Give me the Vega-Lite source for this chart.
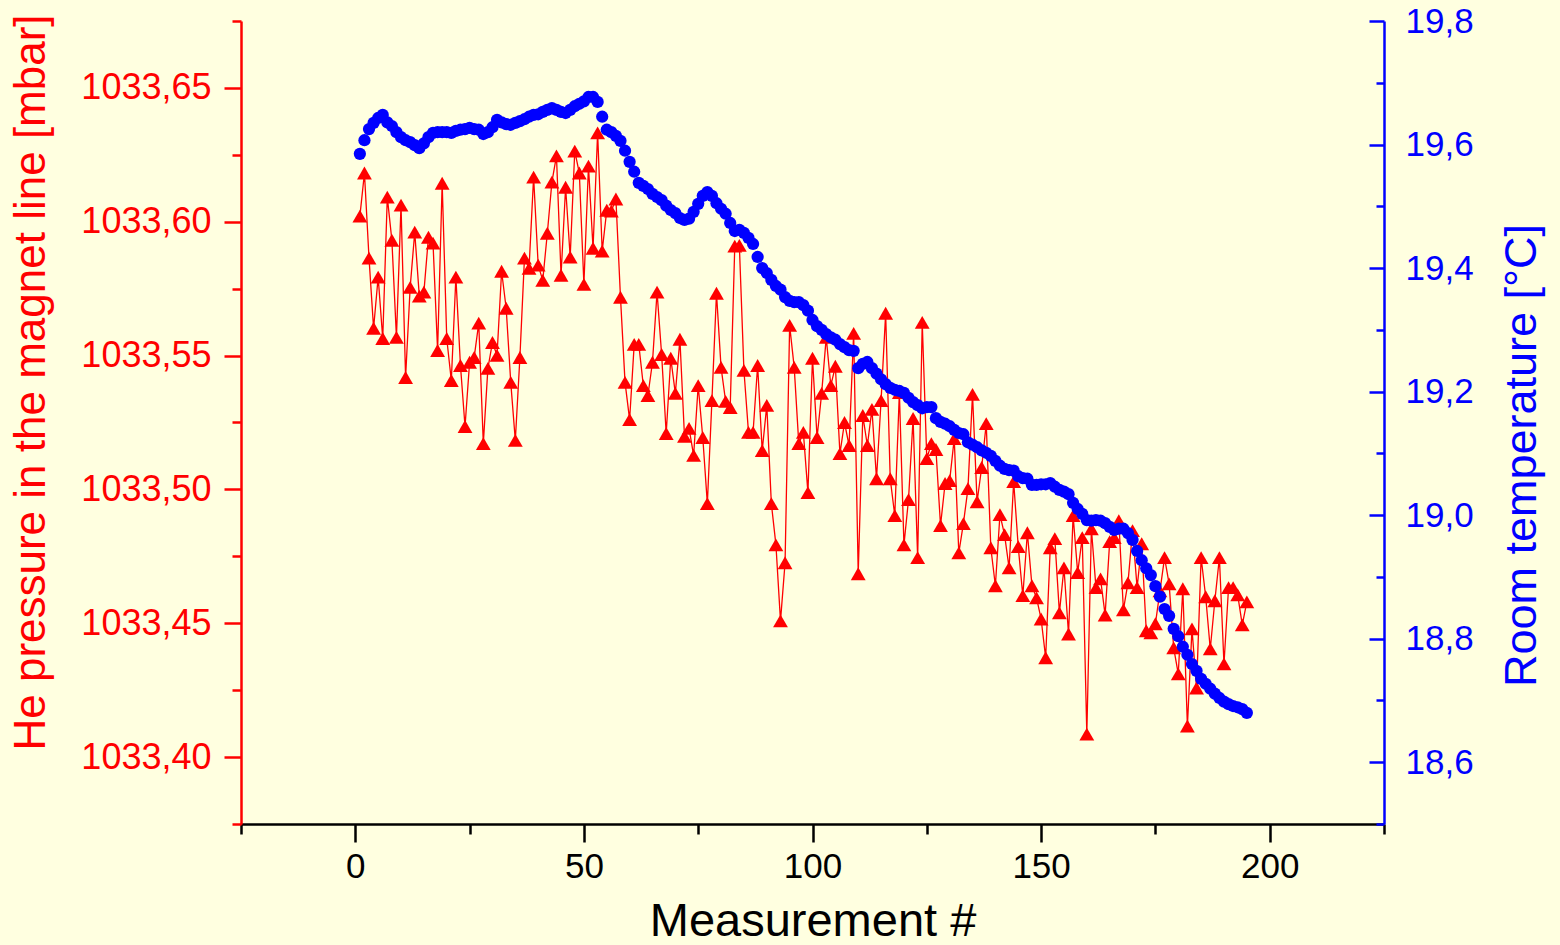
{
"$schema": "https://vega.github.io/schema/vega-lite/v6.json",
"width": 1143, "height": 803,
"autosize": {"type": "none"},
"padding": {"left": 241, "top": 21, "right": 176, "bottom": 121},
"background": "#FFFFE0",
"config": {"view": {"stroke": null}, "axis": {"grid": false, "labelFont": "Liberation Sans", "titleFont": "Liberation Sans", "titleFontWeight": "normal", "labelOverlap": false, "labelFlush": false, "labelBound": false}},
"datasets": {
"pressure": [
{"n":1,"p":1033.6021},{"n":2,"p":1033.6182},{"n":3,"p":1033.5864},{"n":4,"p":1033.5602},{"n":5,"p":1033.5793},{"n":6,"p":1033.5564},{"n":7,"p":1033.6092},{"n":8,"p":1033.5931},{"n":9,"p":1033.5568},{"n":10,"p":1033.6062},
{"n":11,"p":1033.5418},{"n":12,"p":1033.5755},{"n":13,"p":1033.5961},{"n":14,"p":1033.5722},{"n":15,"p":1033.5737},{"n":16,"p":1033.5942},{"n":17,"p":1033.592},{"n":18,"p":1033.5519},{"n":19,"p":1033.6144},{"n":20,"p":1033.5564},
{"n":21,"p":1033.5407},{"n":22,"p":1033.5793},{"n":23,"p":1033.5463},{"n":24,"p":1033.5235},{"n":25,"p":1033.5475},{"n":26,"p":1033.5493},{"n":27,"p":1033.5621},{"n":28,"p":1033.5171},{"n":29,"p":1033.5452},{"n":30,"p":1033.5549},
{"n":31,"p":1033.5501},{"n":32,"p":1033.5815},{"n":33,"p":1033.5677},{"n":34,"p":1033.54},{"n":35,"p":1033.5183},{"n":36,"p":1033.5493},{"n":37,"p":1033.5864},{"n":38,"p":1033.5826},{"n":39,"p":1033.6167},{"n":40,"p":1033.5838},
{"n":41,"p":1033.5781},{"n":42,"p":1033.5957},{"n":43,"p":1033.6148},{"n":44,"p":1033.6246},{"n":45,"p":1033.58},{"n":46,"p":1033.6129},{"n":47,"p":1033.5868},{"n":48,"p":1033.6264},{"n":49,"p":1033.6182},{"n":50,"p":1033.5766},
{"n":51,"p":1033.6208},{"n":52,"p":1033.5901},{"n":53,"p":1033.6332},{"n":54,"p":1033.589},{"n":55,"p":1033.6043},{"n":56,"p":1033.604},{"n":57,"p":1033.6085},{"n":58,"p":1033.5718},{"n":59,"p":1033.54},{"n":60,"p":1033.5261},
{"n":61,"p":1033.5542},{"n":62,"p":1033.5542},{"n":63,"p":1033.5388},{"n":64,"p":1033.5351},{"n":65,"p":1033.5475},{"n":66,"p":1033.5737},{"n":67,"p":1033.5504},{"n":68,"p":1033.5209},{"n":69,"p":1033.549},{"n":70,"p":1033.5359},
{"n":71,"p":1033.5561},{"n":72,"p":1033.5198},{"n":73,"p":1033.5228},{"n":74,"p":1033.5127},{"n":75,"p":1033.5388},{"n":76,"p":1033.5194},{"n":77,"p":1033.4947},{"n":78,"p":1033.5332},{"n":79,"p":1033.5733},{"n":80,"p":1033.5456},
{"n":81,"p":1033.5329},{"n":82,"p":1033.5306},{"n":83,"p":1033.5909},{"n":84,"p":1033.5912},{"n":85,"p":1033.5445},{"n":86,"p":1033.5213},{"n":87,"p":1033.5213},{"n":88,"p":1033.5463},{"n":89,"p":1033.5145},{"n":90,"p":1033.5314},
{"n":91,"p":1033.4947},{"n":92,"p":1033.4793},{"n":93,"p":1033.4509},{"n":94,"p":1033.4726},{"n":95,"p":1033.5613},{"n":96,"p":1033.5456},{"n":97,"p":1033.5171},{"n":98,"p":1033.5213},{"n":99,"p":1033.4988},{"n":100,"p":1033.549},
{"n":101,"p":1033.5194},{"n":102,"p":1033.5359},{"n":103,"p":1033.5568},{"n":104,"p":1033.5388},{"n":105,"p":1033.546},{"n":106,"p":1033.5134},{"n":107,"p":1033.525},{"n":108,"p":1033.5164},{"n":109,"p":1033.5583},{"n":110,"p":1033.4685},
{"n":111,"p":1033.5276},{"n":112,"p":1033.5164},{"n":113,"p":1033.5299},{"n":114,"p":1033.504},{"n":115,"p":1033.5332},{"n":116,"p":1033.5658},{"n":117,"p":1033.504},{"n":118,"p":1033.4902},{"n":119,"p":1033.5362},{"n":120,"p":1033.4793},
{"n":121,"p":1033.4962},{"n":122,"p":1033.5265},{"n":123,"p":1033.4745},{"n":124,"p":1033.5624},{"n":125,"p":1033.5115},{"n":126,"p":1033.5171},{"n":127,"p":1033.5149},{"n":128,"p":1033.4865},{"n":129,"p":1033.5022},{"n":130,"p":1033.5033},
{"n":131,"p":1033.519},{"n":132,"p":1033.4763},{"n":133,"p":1033.4872},{"n":134,"p":1033.5003},{"n":135,"p":1033.5355},{"n":136,"p":1033.4954},{"n":137,"p":1033.5082},{"n":138,"p":1033.5246},{"n":139,"p":1033.4782},{"n":140,"p":1033.464},
{"n":141,"p":1033.4906},{"n":142,"p":1033.4831},{"n":143,"p":1033.4707},{"n":144,"p":1033.5029},{"n":145,"p":1033.4786},{"n":146,"p":1033.4603},{"n":147,"p":1033.4838},{"n":148,"p":1033.464},{"n":149,"p":1033.4595},{"n":150,"p":1033.4516},
{"n":151,"p":1033.4371},{"n":152,"p":1033.4782},{"n":153,"p":1033.4816},{"n":154,"p":1033.4539},{"n":155,"p":1033.4707},{"n":156,"p":1033.446},{"n":157,"p":1033.4902},{"n":158,"p":1033.4689},{"n":159,"p":1033.482},{"n":160,"p":1033.4086},
{"n":161,"p":1033.4853},{"n":162,"p":1033.4633},{"n":163,"p":1033.4666},{"n":164,"p":1033.4531},{"n":165,"p":1033.4805},{"n":166,"p":1033.482},{"n":167,"p":1033.4883},{"n":168,"p":1033.455},{"n":169,"p":1033.4651},{"n":170,"p":1033.4846},
{"n":171,"p":1033.4633},{"n":172,"p":1033.4797},{"n":173,"p":1033.4472},{"n":174,"p":1033.4464},{"n":175,"p":1033.4498},{"n":176,"p":1033.4621},{"n":177,"p":1033.4745},{"n":178,"p":1033.4647},{"n":179,"p":1033.4408},{"n":180,"p":1033.4311},
{"n":181,"p":1033.4629},{"n":182,"p":1033.4116},{"n":183,"p":1033.4479},{"n":184,"p":1033.4258},{"n":185,"p":1033.4745},{"n":186,"p":1033.4599},{"n":187,"p":1033.4404},{"n":188,"p":1033.4584},{"n":189,"p":1033.4745},{"n":190,"p":1033.4348},
{"n":191,"p":1033.4633},{"n":192,"p":1033.4633},{"n":193,"p":1033.4606},{"n":194,"p":1033.4494},{"n":195,"p":1033.458}
],
"temp": [
{"n":1,"t":19.585},{"n":2,"t":19.607},{"n":3,"t":19.625},{"n":4,"t":19.635},{"n":5,"t":19.643},{"n":6,"t":19.648},{"n":7,"t":19.636},{"n":8,"t":19.63},{"n":9,"t":19.62},{"n":10,"t":19.612},
{"n":11,"t":19.607},{"n":12,"t":19.604},{"n":13,"t":19.599},{"n":14,"t":19.594},{"n":15,"t":19.602},{"n":16,"t":19.612},{"n":17,"t":19.619},{"n":18,"t":19.62},{"n":19,"t":19.62},{"n":20,"t":19.62},
{"n":21,"t":19.619},{"n":22,"t":19.622},{"n":23,"t":19.624},{"n":24,"t":19.625},{"n":25,"t":19.627},{"n":26,"t":19.625},{"n":27,"t":19.624},{"n":28,"t":19.617},{"n":29,"t":19.62},{"n":30,"t":19.628},
{"n":31,"t":19.64},{"n":32,"t":19.636},{"n":33,"t":19.633},{"n":34,"t":19.632},{"n":35,"t":19.635},{"n":36,"t":19.638},{"n":37,"t":19.641},{"n":38,"t":19.645},{"n":39,"t":19.648},{"n":40,"t":19.649},
{"n":41,"t":19.653},{"n":42,"t":19.656},{"n":43,"t":19.659},{"n":44,"t":19.656},{"n":45,"t":19.653},{"n":46,"t":19.651},{"n":47,"t":19.656},{"n":48,"t":19.662},{"n":49,"t":19.666},{"n":50,"t":19.67},
{"n":51,"t":19.677},{"n":52,"t":19.677},{"n":53,"t":19.669},{"n":54,"t":19.645},{"n":55,"t":19.624},{"n":56,"t":19.62},{"n":57,"t":19.614},{"n":58,"t":19.606},{"n":59,"t":19.59},{"n":60,"t":19.572},
{"n":61,"t":19.556},{"n":62,"t":19.538},{"n":63,"t":19.533},{"n":64,"t":19.528},{"n":65,"t":19.52},{"n":66,"t":19.515},{"n":67,"t":19.51},{"n":68,"t":19.501},{"n":69,"t":19.494},{"n":70,"t":19.489},
{"n":71,"t":19.481},{"n":72,"t":19.478},{"n":73,"t":19.48},{"n":74,"t":19.491},{"n":75,"t":19.504},{"n":76,"t":19.517},{"n":77,"t":19.523},{"n":78,"t":19.517},{"n":79,"t":19.505},{"n":80,"t":19.496},
{"n":81,"t":19.488},{"n":82,"t":19.473},{"n":83,"t":19.46},{"n":84,"t":19.462},{"n":85,"t":19.457},{"n":86,"t":19.449},{"n":87,"t":19.439},{"n":88,"t":19.418},{"n":89,"t":19.4},{"n":90,"t":19.392},
{"n":91,"t":19.381},{"n":92,"t":19.371},{"n":93,"t":19.365},{"n":94,"t":19.353},{"n":95,"t":19.347},{"n":96,"t":19.345},{"n":97,"t":19.345},{"n":98,"t":19.34},{"n":99,"t":19.331},{"n":100,"t":19.316},
{"n":101,"t":19.306},{"n":102,"t":19.3},{"n":103,"t":19.293},{"n":104,"t":19.288},{"n":105,"t":19.284},{"n":106,"t":19.277},{"n":107,"t":19.272},{"n":108,"t":19.267},{"n":109,"t":19.266},{"n":110,"t":19.238},
{"n":111,"t":19.245},{"n":112,"t":19.248},{"n":113,"t":19.238},{"n":114,"t":19.229},{"n":115,"t":19.22},{"n":116,"t":19.212},{"n":117,"t":19.206},{"n":118,"t":19.203},{"n":119,"t":19.201},{"n":120,"t":19.198},
{"n":121,"t":19.19},{"n":122,"t":19.183},{"n":123,"t":19.178},{"n":124,"t":19.173},{"n":125,"t":19.175},{"n":126,"t":19.175},{"n":127,"t":19.157},{"n":128,"t":19.151},{"n":129,"t":19.148},{"n":130,"t":19.144},
{"n":131,"t":19.138},{"n":132,"t":19.133},{"n":133,"t":19.131},{"n":134,"t":19.118},{"n":135,"t":19.114},{"n":136,"t":19.11},{"n":137,"t":19.105},{"n":138,"t":19.101},{"n":139,"t":19.096},{"n":140,"t":19.088},
{"n":141,"t":19.08},{"n":142,"t":19.075},{"n":143,"t":19.073},{"n":144,"t":19.072},{"n":145,"t":19.063},{"n":146,"t":19.06},{"n":147,"t":19.059},{"n":148,"t":19.049},{"n":149,"t":19.049},{"n":150,"t":19.05},
{"n":151,"t":19.05},{"n":152,"t":19.052},{"n":153,"t":19.046},{"n":154,"t":19.041},{"n":155,"t":19.038},{"n":156,"t":19.034},{"n":157,"t":19.02},{"n":158,"t":19.01},{"n":159,"t":19.002},{"n":160,"t":18.992},
{"n":161,"t":18.991},{"n":162,"t":18.992},{"n":163,"t":18.991},{"n":164,"t":18.987},{"n":165,"t":18.981},{"n":166,"t":18.976},{"n":167,"t":18.978},{"n":168,"t":18.978},{"n":169,"t":18.971},{"n":170,"t":18.96},
{"n":171,"t":18.942},{"n":172,"t":18.927},{"n":173,"t":18.914},{"n":174,"t":18.903},{"n":175,"t":18.885},{"n":176,"t":18.868},{"n":177,"t":18.848},{"n":178,"t":18.837},{"n":179,"t":18.816},{"n":180,"t":18.804},
{"n":181,"t":18.787},{"n":182,"t":18.774},{"n":183,"t":18.759},{"n":184,"t":18.748},{"n":185,"t":18.735},{"n":186,"t":18.727},{"n":187,"t":18.719},{"n":188,"t":18.711},{"n":189,"t":18.704},{"n":190,"t":18.698},
{"n":191,"t":18.694},{"n":192,"t":18.691},{"n":193,"t":18.689},{"n":194,"t":18.686},{"n":195,"t":18.68}
]
},
"encoding": {
  "x": {"field": "n", "type": "quantitative",
    "scale": {"domain": [-25, 225], "nice": false, "zero": false},
    "axis": {"values": [-25, 0, 25, 50, 75, 100, 125, 150, 175, 200, 225],
      "labelExpr": "datum.value % 50 == 0 ? datum.label : ''",
      "tickSize": {"condition": {"test": "datum.value % 50 == 0", "value": 18}, "value": 10},
      "domainColor": "black", "tickColor": "black", "labelColor": "black", "titleColor": "black",
      "domainWidth": 2.5, "tickWidth": 2.5, "labelFontSize": 35, "labelPadding": 7,
      "title": "Measurement #", "titleFontSize": 47, "titlePadding": 14}}
},
"layer": [
  {"data": {"name": "pressure"},
   "encoding": {"y": {"field": "p", "type": "quantitative",
      "scale": {"domain": [1033.375, 1033.675], "nice": false, "zero": false},
      "axis": {"orient": "left",
        "values": [1033.375, 1033.4, 1033.425, 1033.45, 1033.475, 1033.5, 1033.525, 1033.55, 1033.575, 1033.6, 1033.625, 1033.65, 1033.675],
        "labelExpr": "abs(datum.value*20 - round(datum.value*20)) < 0.01 ? replace(format(datum.value, '.2f'), '.', ',') : ''",
        "tickSize": {"condition": {"test": "abs(datum.value*20 - round(datum.value*20)) < 0.01", "value": 17}, "value": 9},
        "domainColor": "#FF0000", "tickColor": "#FF0000", "labelColor": "#FF0000", "titleColor": "#FF0000",
        "domainWidth": 2.5, "tickWidth": 2.5, "labelFontSize": 36, "labelPadding": 13,
        "title": "He pressure in the magnet line [mbar]", "titleFontSize": 44, "titlePadding": 27, "titleY": 361}}},
   "layer": [
     {"mark": {"type": "line", "color": "#FF0000", "strokeWidth": 1.3}},
     {"mark": {"type": "point", "shape": "triangle-up", "filled": true, "color": "#FF0000", "opacity": 1, "size": 220}}
   ]},
  {"data": {"name": "temp"},
   "mark": {"type": "circle", "color": "#0000FF", "opacity": 1, "size": 150},
   "encoding": {"y": {"field": "t", "type": "quantitative",
      "scale": {"domain": [18.5, 19.8], "nice": false, "zero": false},
      "axis": {"orient": "right",
        "values": [18.5, 18.6, 18.7, 18.8, 18.9, 19.0, 19.1, 19.2, 19.3, 19.4, 19.5, 19.6, 19.7, 19.8],
        "labelExpr": "abs(datum.value*5 - round(datum.value*5)) < 0.01 ? replace(format(datum.value, '.1f'), '.', ',') : ''",
        "tickSize": {"condition": {"test": "abs(datum.value*5 - round(datum.value*5)) < 0.01", "value": -15}, "value": -8},
        "domainColor": "#0000FF", "tickColor": "#0000FF", "labelColor": "#0000FF", "titleColor": "#0000FF",
        "domainWidth": 2.5, "tickWidth": 2.5, "labelFontSize": 35, "labelPadding": 36,
        "title": "Room temperature [°C]", "titleFontSize": 45, "titlePadding": 26, "titleAngle": 270, "titleBaseline": "top", "titleY": 434}}}}
],
"resolve": {"scale": {"y": "independent"}}
}
